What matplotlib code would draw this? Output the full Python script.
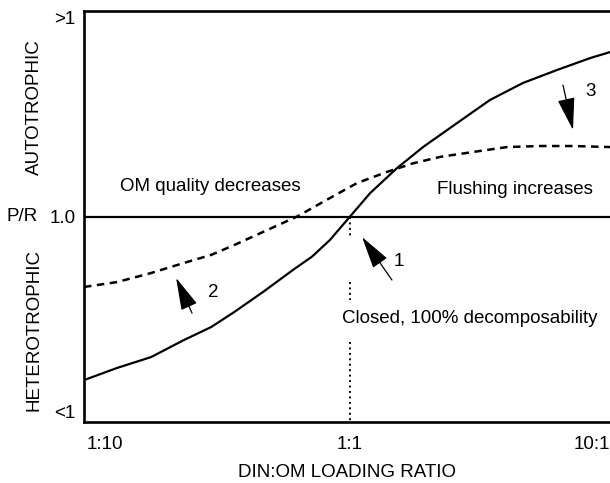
import matplotlib.pyplot as plt
import matplotlib.transforms as mtransforms
from matplotlib.patches import FancyArrowPatch

plt.rcParams['font.family'] = ['Liberation Sans', 'DejaVu Sans']

# log10 of DIN:OM loading ratio, P/R on a relative scale (0 = balance)
solid_x = [-1.086, -0.951, -0.812, -0.678, -0.567, -0.473, -0.355, -0.233, -0.155,
           -0.082, 0.0, 0.082, 0.192, 0.298, 0.437, 0.571, 0.706, 0.845, 0.980, 1.061]
solid_y = [-0.796, -0.737, -0.684, -0.601, -0.538, -0.465, -0.367, -0.260, -0.195,
           -0.114, 0.0, 0.114, 0.236, 0.338, 0.455, 0.567, 0.650, 0.713, 0.771, 0.800]

dashed_x = [-1.086, -0.951, -0.812, -0.678, -0.567, -0.473, -0.355, -0.216, -0.082,
            0.029, 0.151, 0.255, 0.367, 0.502, 0.641, 0.776, 0.910, 1.061]
dashed_y = [-0.343, -0.319, -0.275, -0.226, -0.187, -0.139, -0.075, 0.0, 0.090,
            0.163, 0.217, 0.258, 0.290, 0.314, 0.338, 0.343, 0.343, 0.338]

# pieces of the dotted 1:1 marker (top, bottom)
dotted_pieces = [(0.0, -0.095), (-0.319, -0.406), (-0.611, -1.0)]

x_ticks = [-1, 0, 1]
x_ticklabels = ['1:10', '1:1', '10:1']
y_ticks = [-1, 0, 1]
y_ticklabels = ['<1', '1.0', '>1']

# arrows: (tail x, tail y, head x, head y, label, label x, label y)
arrows = [
    (0.171, -0.309, 0.049, -0.100, '1', 0.200, -0.221),
    (-0.645, -0.470, -0.710, -0.299, '2', -0.559, -0.372),
    (0.869, 0.640, 0.910, 0.421, '3', 0.980, 0.606),
]

fig = plt.figure(figsize=(6.1, 4.83), dpi=100)
ax = fig.add_axes([0.1377, 0.1263, 0.8623, 0.8509])

ax.plot(solid_x, solid_y, color='black', lw=1.6, solid_joinstyle='round')
ax.plot(dashed_x, dashed_y, color='black', lw=1.8, linestyle=(0, (3, 2.2)))
ax.axhline(0, color='black', lw=1.6)
for top, bottom in dotted_pieces:
    ax.plot([0, 0], [top, bottom], color='black', lw=1.4, linestyle=(0, (1, 1.8)))

for tx, ty, hx, hy, lab, lx, ly in arrows:
    ax.add_patch(FancyArrowPatch((tx, ty), (hx, hy),
                                 arrowstyle='-|>,head_length=1.7,head_width=0.45',
                                 mutation_scale=12, color='black', lw=0.9,
                                 shrinkA=0, shrinkB=0))
    ax.text(lx, ly, lab, fontsize=13.5, ha='center', va='center')

ax.text(-0.571, 0.148, 'OM quality decreases', fontsize=13.5, ha='center', va='center')
ax.text(0.673, 0.129, 'Flushing increases', fontsize=13.5, ha='center', va='center')
ax.text(-0.033, -0.494, 'Closed, 100% decomposability', fontsize=13.5,
        ha='left', va='center')

ax.set_xlim(-1.086, 1.061)
ax.set_ylim(-1, 1)

ax.set_xticks(x_ticks)
ax.set_xticklabels(x_ticklabels, fontsize=13.5)
ax.set_yticks(y_ticks)
ax.set_yticklabels(y_ticklabels, fontsize=13.5)
ax.tick_params(length=0, pad=10)
ax.tick_params(axis='y', pad=6)
ylabels = ax.get_yticklabels()
ylabels[0].set_verticalalignment('bottom')
ylabels[2].set_verticalalignment('top')
# keep the last x label inside the figure edge
last = ax.get_xticklabels()[-1]
last.set_transform(last.get_transform() +
                   mtransforms.ScaledTranslation(-3 / 100, 0, fig.dpi_scale_trans))
ax.set_xlabel('DIN:OM LOADING RATIO', fontsize=13.5, labelpad=8)

for side in ['left', 'top', 'bottom']:
    ax.spines[side].set_linewidth(1.9)
ax.spines['right'].set_visible(False)

blend = mtransforms.blended_transform_factory(fig.transFigure, ax.transData)
ax.text(0.0557, 0.533, 'AUTOTROPHIC', transform=blend, rotation=90,
        fontsize=13.5, ha='center', va='center')
ax.text(0.0557, -0.552, 'HETEROTROPHIC', transform=blend, rotation=90,
        fontsize=13.5, ha='center', va='center')
ax.text(0.036, 0.0, 'P/R', transform=blend, fontsize=13.5, ha='center', va='center')

fig.savefig('out.png', dpi=100)
